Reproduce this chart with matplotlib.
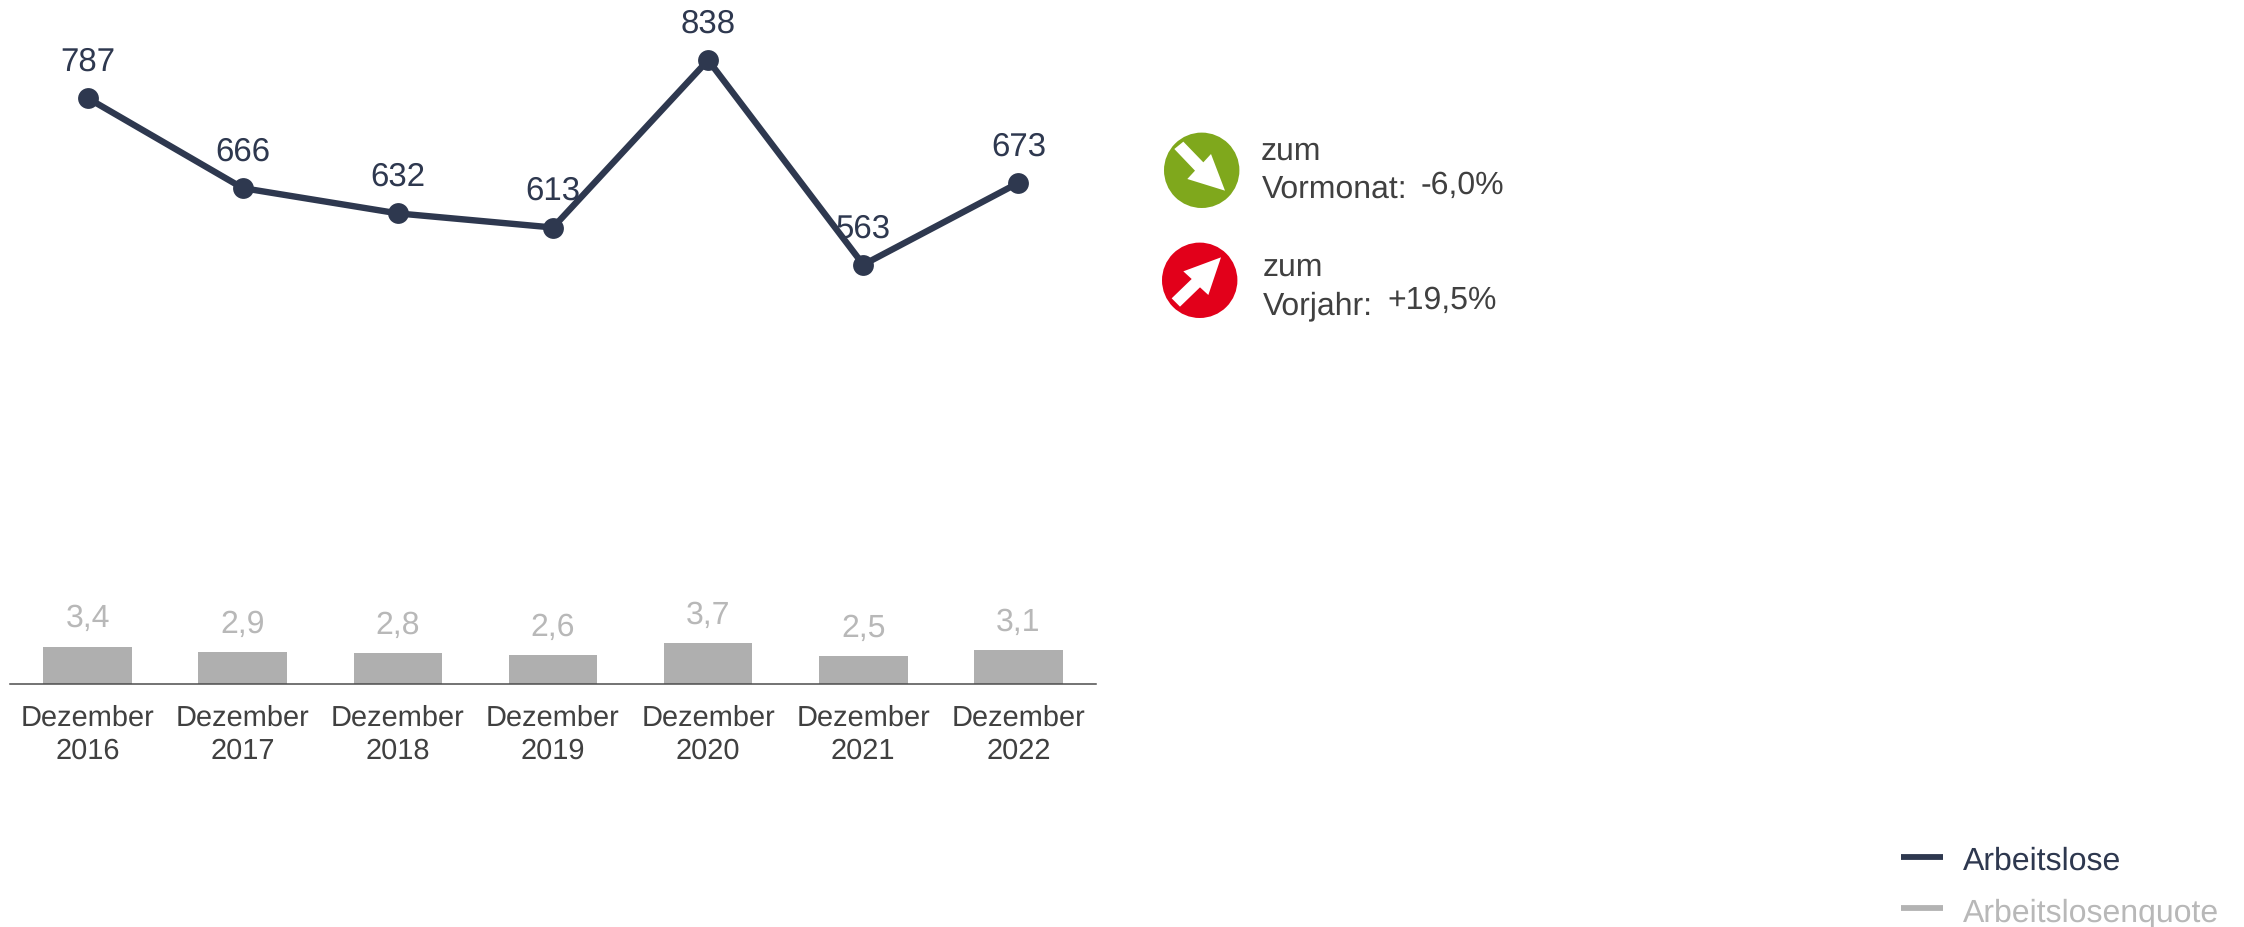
import matplotlib
matplotlib.use("Agg")
import matplotlib.pyplot as plt
from matplotlib.patches import Circle, Polygon

plt.rcParams["font.family"] = ["Liberation Sans", "DejaVu Sans"]
plt.rcParams["text.hinting"] = "none"
plt.rcParams["text.hinting_factor"] = 1

months = ["Dezember\n2016", "Dezember\n2017", "Dezember\n2018", "Dezember\n2019",
          "Dezember\n2020", "Dezember\n2021", "Dezember\n2022"]
arbeitslose = [787, 666, 632, 613, 838, 563, 673]
quote = [3.4, 2.9, 2.8, 2.6, 3.7, 2.5, 3.1]
series_names = ["Arbeitslose", "Arbeitslosenquote"]

NAVY = "#2e384f"
GREY_BAR = "#afafaf"
GREY_TEXT = "#b8b8b8"
DARK = "#404040"

W, H = 2244, 928
BASE_Y = 684.6  # pixel row of the x axis line

fig = plt.figure(figsize=(W / 100, H / 100), dpi=100, facecolor="white")

# chart axes reach from the top of the figure down to the axis line
ax = fig.add_axes([10 / W, 1 - BASE_Y / H, 1086 / W, BASE_Y / H])
ax_line = ax.twinx()
x = list(range(len(months)))

ax.bar(x, quote, width=0.57, color=GREY_BAR, linewidth=0)
ax.set_xlim(-0.5, 6.5)
ax.set_ylim(0, BASE_Y / 10.9)
ax.set_xticks(x, months)
ax.tick_params(axis="x", length=0, pad=14.5, labelsize=21.1, labelcolor=DARK)
ax.set_yticks([])
for label in ax.get_xticklabels():
    label.set_linespacing(1.29)
for name in ["top", "left", "right"]:
    ax.spines[name].set_visible(False)
ax.spines["bottom"].set_color("#4d4d4d")
ax.spines["bottom"].set_linewidth(1.1)

for xi, q in zip(x, quote):
    ax.annotate(f"{q:.1f}".replace(".", ","), (xi, q), xytext=(0, 14.5),
                textcoords="offset points", ha="center", va="baseline",
                fontsize=23.4, color=GREY_TEXT)

ax_line.plot(x, arbeitslose, color=NAVY, lw=4.6, marker="o", ms=15, mew=0,
             solid_joinstyle="miter", clip_on=False)
ax_line.set_ylim(0, BASE_Y / 0.744)
ax_line.set_yticks([])
for name in ["top", "left", "right", "bottom"]:
    ax_line.spines[name].set_visible(False)
for xi, v in zip(x, arbeitslose):
    ax_line.annotate(str(v), (xi, v), xytext=(0, 20.5), textcoords="offset points",
                     ha="center", va="baseline", fontsize=23.6, color=NAVY,
                     annotation_clip=False)

# overlay in pixel coordinates for the change icons and the legend
over = fig.add_axes([0, 0, 1, 1])
over.set_xlim(0, W)
over.set_ylim(H, 0)
over.axis("off")
over.patch.set_alpha(0)


def zoomed(points):
    return [(1130 + px / 3, 110 + py / 3) for px, py in points]


over.add_patch(Circle((1201.7, 171.3), 37.7, color="#7fa81c", lw=0))
over.add_patch(Polygon(zoomed([(133, 120), (160, 98), (220, 160), (243, 135), (285, 245),
                               (172, 210), (195, 185)]), color="white", lw=0))
over.add_patch(Circle((1199.7, 281.3), 37.7, color="#e2001a", lw=0))
over.add_patch(Polygon(zoomed([(273, 445), (160, 487), (185, 510), (125, 568), (150, 593),
                               (210, 535), (235, 558)]), color="white", lw=0))

notes = [("zum", 1261, 160), ("Vormonat:", 1261.5, 198), ("-6,0%", 1421, 194),
         ("zum", 1262.5, 275.7), ("Vorjahr:", 1263, 314), ("+19,5%", 1387, 309)]
for text, px, py in notes:
    over.text(px, py, text, fontsize=23, color=DARK, ha="left", va="baseline")

over.plot([1900.7, 1943], [857.7, 857.7], color=NAVY, lw=4.2, solid_capstyle="butt")
over.plot([1900.7, 1943], [909, 909], color="#b3b3b3", lw=4.2, solid_capstyle="butt")
over.text(1963, 870, series_names[0], fontsize=23, color=NAVY, ha="left", va="baseline")
over.text(1963, 921.5, series_names[1], fontsize=23, color=GREY_TEXT, ha="left", va="baseline")

fig.savefig("out.png", dpi=100)
